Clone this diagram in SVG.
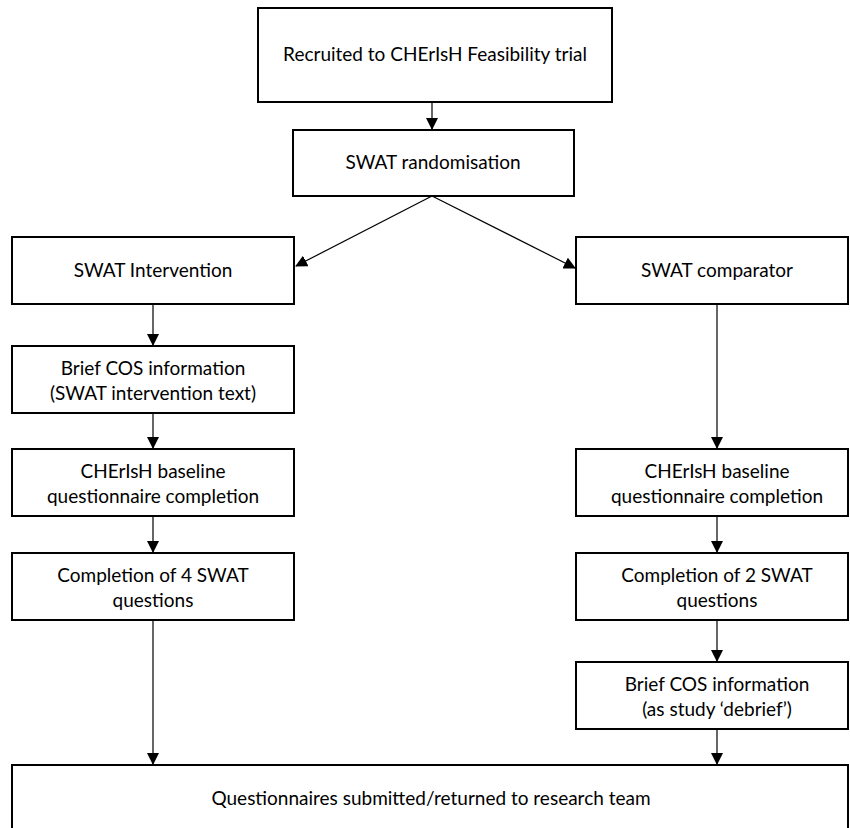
<svg xmlns="http://www.w3.org/2000/svg" width="850" height="828" viewBox="0 0 850 828">
<style>
.box{fill:#fff;stroke:#000;stroke-width:2}
.t{font-family:Lato,"Open Sans","Liberation Sans",sans-serif;font-size:19px;fill:#000;text-anchor:middle}
.c{stroke:#000;stroke-width:1.2;fill:none;marker-end:url(#ah)}
</style>
<defs>
<marker id="ah" markerWidth="12" markerHeight="12" refX="11" refY="6" orient="auto" markerUnits="userSpaceOnUse">
<path d="M0,0 L12,6 L0,12 Z" fill="#000"/>
</marker>
</defs>
<rect width="850" height="828" fill="#fff"/>
<g id="connectors">
<line class="c" x1="432" y1="102" x2="432" y2="129"/>
<line class="c" x1="432" y1="196" x2="296" y2="266"/>
<line class="c" x1="432" y1="196" x2="575" y2="268"/>
<line class="c" x1="153" y1="304" x2="153" y2="345"/>
<line class="c" x1="153" y1="413" x2="153" y2="448"/>
<line class="c" x1="153" y1="516" x2="153" y2="552"/>
<line class="c" x1="153" y1="620" x2="153" y2="764"/>
<line class="c" x1="717" y1="304" x2="717" y2="448"/>
<line class="c" x1="717" y1="516" x2="717" y2="552"/>
<line class="c" x1="717" y1="620" x2="717" y2="661"/>
<line class="c" x1="717" y1="729" x2="717" y2="764"/>
</g>
<g id="recruited"><rect class="box" x="258" y="8" width="354" height="94"/><text class="t" x="435" y="61">Recruited to CHErIsH Feasibility trial</text></g>
<g id="randomisation"><rect class="box" x="293" y="130" width="281" height="66"/><text class="t" x="433" y="169">SWAT randomisation</text></g>
<g id="intervention"><rect class="box" x="12" y="237" width="282" height="67"/><text class="t" x="153" y="277">SWAT Intervention</text></g>
<g id="comparator"><rect class="box" x="576" y="237" width="272" height="67"/><text class="t" x="717" y="277">SWAT comparator</text></g>
<g id="brief-left"><rect class="box" x="12" y="346" width="282" height="67"/><text class="t" x="153" y="375">Brief COS information</text><text class="t" x="153" y="400">(SWAT intervention text)</text></g>
<g id="baseline-left"><rect class="box" x="12" y="449" width="282" height="67"/><text class="t" x="153" y="478">CHErIsH baseline</text><text class="t" x="153" y="503">questionnaire completion</text></g>
<g id="baseline-right"><rect class="box" x="576" y="449" width="272" height="67"/><text class="t" x="717" y="478">CHErIsH baseline</text><text class="t" x="717" y="503">questionnaire completion</text></g>
<g id="swat4"><rect class="box" x="12" y="553" width="282" height="67"/><text class="t" x="153" y="582">Completion of 4 SWAT</text><text class="t" x="153" y="607">questions</text></g>
<g id="swat2"><rect class="box" x="576" y="553" width="272" height="67"/><text class="t" x="717" y="582">Completion of 2 SWAT</text><text class="t" x="717" y="607">questions</text></g>
<g id="brief-right"><rect class="box" x="576" y="662" width="272" height="67"/><text class="t" x="717" y="691">Brief COS information</text><text class="t" x="717" y="716">(as study ‘debrief’)</text></g>
<g id="submitted"><rect class="box" x="12" y="765" width="836" height="70"/><text class="t" x="431" y="805">Questionnaires submitted/returned to research team</text></g>
</svg>
